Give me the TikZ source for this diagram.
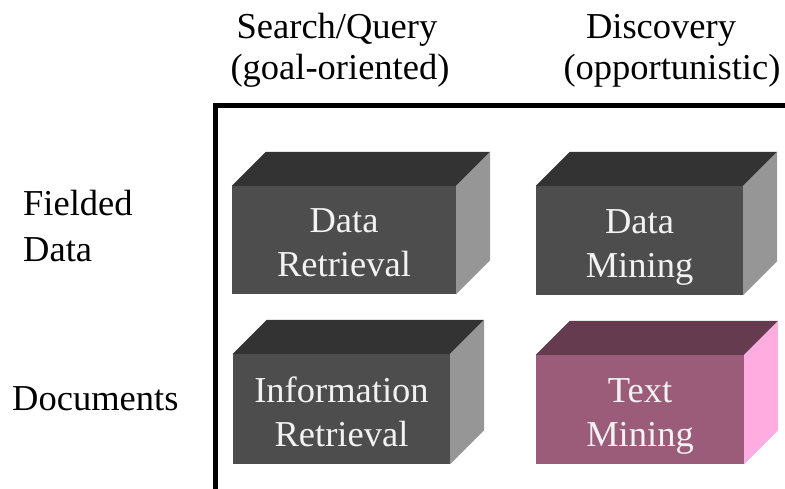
\documentclass[tikz,border=0pt]{standalone}
\usepackage{fontspec}
\setmainfont{Liberation Serif}
\definecolor{boxfront}{HTML}{4D4D4D}
\definecolor{boxtop}{HTML}{333333}
\definecolor{boxside}{HTML}{969696}
\definecolor{pinkfront}{HTML}{9B5C7A}
\definecolor{pinktop}{HTML}{653B50}
\definecolor{pinkside}{HTML}{FFACE0}
\definecolor{boxtext}{HTML}{F2F2F2}
% fixed height above the first line and depth below the last one,
% so every block places its two lines alike
\newcommand\cubetop{\rule{0pt}{40pt}}
\newcommand\cubebottom{\rule[-10pt]{0pt}{10pt}}
\begin{document}
\begin{tikzpicture}[x=1pt,y=-1pt,
  label/.style={font=\fontsize{36.5}{44}\selectfont, inner sep=0pt, text=black},
  cube/.style={font=\fontsize{36.5}{44}\selectfont, align=center, inner sep=0pt,
    text=boxtext, fill=boxfront, draw=none},
  pinkcube/.style={cube, fill=pinkfront},
  axis/.style={line width=5pt, line join=miter, draw=black}]
  \useasboundingbox (0,0) rectangle (785,489);

  % row and column headings
  \node[label, anchor=base] (h1a) at (337,39) {Search/Query};
  \node[label, anchor=base] (h1b) at (340,80) {(goal-oriented)};
  \node[label, anchor=base] (h2a) at (661,39) {Discovery};
  \node[label, anchor=base] (h2b) at (672,80) {(opportunistic)};
  \node[label, anchor=base west] (r1a) at (23,216) {Fielded};
  \node[label, anchor=base west] (r1b) at (23,262) {Data};
  \node[label, anchor=base west] (r2) at (12,410) {Documents};

  % frame of the matrix
  \coordinate (fbot) at (215.5,489);
  \coordinate (fcorner) at (215.5,105.5);
  \coordinate (fright) at (785,105.5);
  \draw[axis] (fbot) -- (fcorner) -- (fright);

  % front faces
  \node[cube, minimum width=224pt, minimum height=108pt] (dr) at (344,240) {\cubetop Data\\Retrieval\cubebottom};
  \node[cube, minimum width=207pt, minimum height=109pt] (dm) at (639.5,240.5) {\cubetop Data\\Mining\cubebottom};
  \node[cube, minimum width=217pt, minimum height=110pt] (ir) at (341.5,409) {\cubetop Information\\Retrieval\cubebottom};
  \node[pinkcube, minimum width=208pt, minimum height=109pt] (tm) at (640,409.5) {\cubetop Text\\Mining\cubebottom};

  % top and side faces of each block
  \foreach \b/\t/\s in {dr/boxtop/boxside, dm/boxtop/boxside, ir/boxtop/boxside, tm/pinktop/pinkside}{
    \fill[\t] (\b.north west) -- ++(34,-34) -- ([shift={(34,-34)}]\b.north east) -- (\b.north east) -- cycle;
    \fill[\s] (\b.north east) -- ++(34,-34) -- ([shift={(34,-34)}]\b.south east) -- (\b.south east) -- cycle;
  }
\end{tikzpicture}
\end{document}
